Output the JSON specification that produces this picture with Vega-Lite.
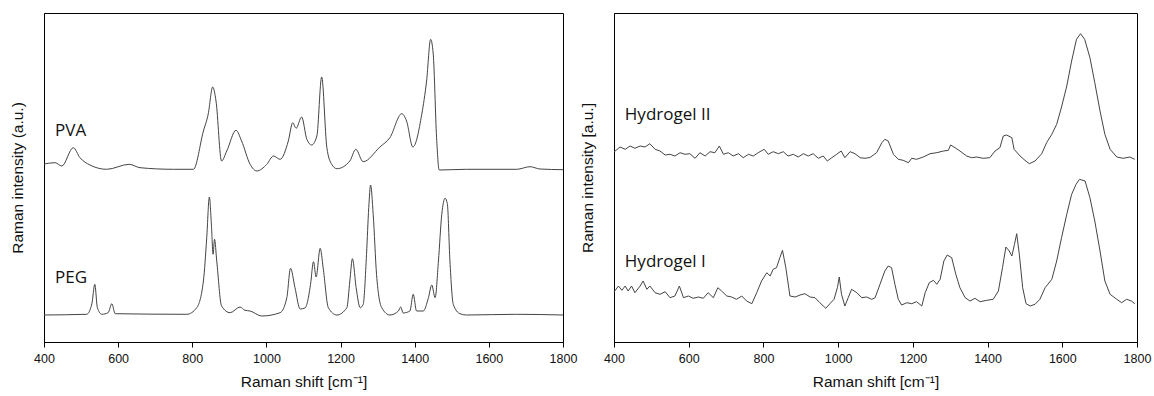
{
  "$schema": "https://vega.github.io/schema/vega-lite/v6.json",
  "background": "white",
  "padding": {"left": 9, "top": 12, "right": 15, "bottom": 5},
  "spacing": 1,
  "config": {
    "view": {"stroke": "#000", "strokeWidth": 1},
    "axis": {"domainColor": "#000", "tickColor": "#000", "labelFont": "Liberation Sans", "titleFont": "Liberation Sans", "labelFontSize": 12.5, "titleFontSize": 15.5, "labelColor": "#111", "titleColor": "#111", "titleFontWeight": "normal", "grid": false}
  },
  "datasets": {
    "left": [
      {"s":"PVA","x":400,"y":178},{"s":"PVA","x":430,"y":179.3},{"s":"PVA","x":448,"y":176},{"s":"PVA","x":479,"y":194.3},{"s":"PVA","x":497,"y":184.3},{"s":"PVA","x":524,"y":177},{"s":"PVA","x":569,"y":172.7},{"s":"PVA","x":630,"y":177.7},{"s":"PVA","x":659,"y":174.3},{"s":"PVA","x":749,"y":172.7},{"s":"PVA","x":803,"y":172.7},{"s":"PVA","x":830,"y":211},{"s":"PVA","x":843,"y":228},{"s":"PVA","x":855,"y":255},{"s":"PVA","x":864,"y":241},{"s":"PVA","x":879,"y":181},{"s":"PVA","x":893,"y":191},{"s":"PVA","x":918,"y":211.7},{"s":"PVA","x":933,"y":201},{"s":"PVA","x":956,"y":177.7},{"s":"PVA","x":974,"y":171},{"s":"PVA","x":1001,"y":177.7},{"s":"PVA","x":1019,"y":186},{"s":"PVA","x":1037,"y":182.7},{"s":"PVA","x":1059,"y":201},{"s":"PVA","x":1071,"y":219.3},{"s":"PVA","x":1080,"y":213.7},{"s":"PVA","x":1095,"y":225},{"s":"PVA","x":1109,"y":202.7},{"s":"PVA","x":1122,"y":197},{"s":"PVA","x":1136,"y":206},{"s":"PVA","x":1149,"y":265},{"s":"PVA","x":1163,"y":194.3},{"s":"PVA","x":1176,"y":177.7},{"s":"PVA","x":1190,"y":173.3},{"s":"PVA","x":1225,"y":181},{"s":"PVA","x":1241,"y":192.7},{"s":"PVA","x":1261,"y":180.3},{"s":"PVA","x":1306,"y":195},{"s":"PVA","x":1333,"y":204.3},{"s":"PVA","x":1365,"y":228.3},{"s":"PVA","x":1378,"y":221},{"s":"PVA","x":1395,"y":195},{"s":"PVA","x":1419,"y":227.7},{"s":"PVA","x":1432,"y":261},{"s":"PVA","x":1443,"y":302.7},{"s":"PVA","x":1450,"y":287.7},{"s":"PVA","x":1459,"y":204.3},{"s":"PVA","x":1466,"y":172},{"s":"PVA","x":1540,"y":172.7},{"s":"PVA","x":1675,"y":172.7},{"s":"PVA","x":1711,"y":175.3},{"s":"PVA","x":1738,"y":173},{"s":"PVA","x":1800,"y":172.3},
      {"s":"PEG","x":400,"y":27},{"s":"PEG","x":515,"y":27.7},{"s":"PEG","x":529,"y":38},{"s":"PEG","x":537,"y":57.7},{"s":"PEG","x":544,"y":34.3},{"s":"PEG","x":556,"y":27.7},{"s":"PEG","x":573,"y":29.3},{"s":"PEG","x":583,"y":38.3},{"s":"PEG","x":592,"y":28.3},{"s":"PEG","x":785,"y":27.7},{"s":"PEG","x":812,"y":34.3},{"s":"PEG","x":830,"y":61},{"s":"PEG","x":839,"y":104.3},{"s":"PEG","x":846,"y":145},{"s":"PEG","x":852,"y":114.3},{"s":"PEG","x":856,"y":87.7},{"s":"PEG","x":860,"y":102.7},{"s":"PEG","x":866,"y":81},{"s":"PEG","x":879,"y":36},{"s":"PEG","x":902,"y":29.3},{"s":"PEG","x":929,"y":35},{"s":"PEG","x":942,"y":31.7},{"s":"PEG","x":956,"y":31},{"s":"PEG","x":987,"y":26},{"s":"PEG","x":1037,"y":29.3},{"s":"PEG","x":1055,"y":44.3},{"s":"PEG","x":1065,"y":73.7},{"s":"PEG","x":1077,"y":54.3},{"s":"PEG","x":1091,"y":33},{"s":"PEG","x":1104,"y":34},{"s":"PEG","x":1109,"y":37.7},{"s":"PEG","x":1119,"y":57.7},{"s":"PEG","x":1127,"y":80.3},{"s":"PEG","x":1134,"y":65},{"s":"PEG","x":1145,"y":93.7},{"s":"PEG","x":1153,"y":74.3},{"s":"PEG","x":1167,"y":34.3},{"s":"PEG","x":1190,"y":27},{"s":"PEG","x":1217,"y":34.3},{"s":"PEG","x":1225,"y":61},{"s":"PEG","x":1232,"y":83.3},{"s":"PEG","x":1242,"y":54.3},{"s":"PEG","x":1253,"y":34.3},{"s":"PEG","x":1261,"y":37.7},{"s":"PEG","x":1270,"y":87.7},{"s":"PEG","x":1276,"y":134.3},{"s":"PEG","x":1281,"y":157},{"s":"PEG","x":1288,"y":127.7},{"s":"PEG","x":1297,"y":67.7},{"s":"PEG","x":1311,"y":34.3},{"s":"PEG","x":1333,"y":27},{"s":"PEG","x":1356,"y":31},{"s":"PEG","x":1362,"y":35},{"s":"PEG","x":1369,"y":29},{"s":"PEG","x":1387,"y":31},{"s":"PEG","x":1396,"y":47.7},{"s":"PEG","x":1405,"y":31},{"s":"PEG","x":1423,"y":31},{"s":"PEG","x":1437,"y":44.3},{"s":"PEG","x":1446,"y":57},{"s":"PEG","x":1455,"y":44.3},{"s":"PEG","x":1464,"y":81},{"s":"PEG","x":1473,"y":127.7},{"s":"PEG","x":1482,"y":143.7},{"s":"PEG","x":1488,"y":138.3},{"s":"PEG","x":1495,"y":81},{"s":"PEG","x":1504,"y":37.7},{"s":"PEG","x":1522,"y":28.3},{"s":"PEG","x":1540,"y":27},{"s":"PEG","x":1675,"y":27.7},{"s":"PEG","x":1800,"y":27}
    ],
    "right": [
      {"s":"II","x":400,"y":190},{"s":"II","x":416,"y":195},{"s":"II","x":430,"y":192.7},{"s":"II","x":443,"y":196},{"s":"II","x":456,"y":193.7},{"s":"II","x":470,"y":196},{"s":"II","x":483,"y":195},{"s":"II","x":496,"y":198.3},{"s":"II","x":510,"y":192.7},{"s":"II","x":523,"y":191},{"s":"II","x":537,"y":187},{"s":"II","x":550,"y":187.7},{"s":"II","x":563,"y":186},{"s":"II","x":577,"y":189.3},{"s":"II","x":590,"y":187.7},{"s":"II","x":603,"y":188.3},{"s":"II","x":617,"y":183.7},{"s":"II","x":630,"y":189.3},{"s":"II","x":644,"y":186},{"s":"II","x":657,"y":190.3},{"s":"II","x":670,"y":189.3},{"s":"II","x":682,"y":196},{"s":"II","x":693,"y":187.7},{"s":"II","x":706,"y":189.3},{"s":"II","x":719,"y":186},{"s":"II","x":733,"y":188.3},{"s":"II","x":746,"y":184.3},{"s":"II","x":760,"y":187.7},{"s":"II","x":773,"y":186},{"s":"II","x":786,"y":189.3},{"s":"II","x":802,"y":192.7},{"s":"II","x":813,"y":187.7},{"s":"II","x":826,"y":190.3},{"s":"II","x":840,"y":188.3},{"s":"II","x":853,"y":190.3},{"s":"II","x":866,"y":186},{"s":"II","x":880,"y":187.7},{"s":"II","x":893,"y":185},{"s":"II","x":907,"y":188.3},{"s":"II","x":920,"y":186},{"s":"II","x":933,"y":188.3},{"s":"II","x":947,"y":183.7},{"s":"II","x":960,"y":186},{"s":"II","x":971,"y":181},{"s":"II","x":983,"y":184.3},{"s":"II","x":996,"y":187.7},{"s":"II","x":1008,"y":191},{"s":"II","x":1018,"y":184.3},{"s":"II","x":1032,"y":190.3},{"s":"II","x":1045,"y":188.3},{"s":"II","x":1059,"y":184.3},{"s":"II","x":1072,"y":183.7},{"s":"II","x":1085,"y":184.5},{"s":"II","x":1103,"y":189.3},{"s":"II","x":1117,"y":199.3},{"s":"II","x":1125,"y":202.7},{"s":"II","x":1134,"y":201},{"s":"II","x":1148,"y":187.7},{"s":"II","x":1161,"y":182.7},{"s":"II","x":1174,"y":181.7},{"s":"II","x":1188,"y":179.3},{"s":"II","x":1197,"y":183.7},{"s":"II","x":1210,"y":182.7},{"s":"II","x":1228,"y":185},{"s":"II","x":1246,"y":188.3},{"s":"II","x":1264,"y":189.3},{"s":"II","x":1282,"y":191},{"s":"II","x":1295,"y":191.7},{"s":"II","x":1301,"y":197},{"s":"II","x":1313,"y":194.3},{"s":"II","x":1326,"y":191},{"s":"II","x":1344,"y":186},{"s":"II","x":1357,"y":184.3},{"s":"II","x":1371,"y":185},{"s":"II","x":1388,"y":183.7},{"s":"II","x":1406,"y":184.3},{"s":"II","x":1420,"y":191},{"s":"II","x":1433,"y":194.3},{"s":"II","x":1442,"y":206},{"s":"II","x":1451,"y":207},{"s":"II","x":1465,"y":204.3},{"s":"II","x":1471,"y":192.7},{"s":"II","x":1487,"y":186},{"s":"II","x":1500,"y":181.7},{"s":"II","x":1512,"y":178.3},{"s":"II","x":1527,"y":181},{"s":"II","x":1545,"y":188.3},{"s":"II","x":1558,"y":199.3},{"s":"II","x":1572,"y":207.7},{"s":"II","x":1585,"y":217.7},{"s":"II","x":1598,"y":235},{"s":"II","x":1612,"y":256},{"s":"II","x":1625,"y":281},{"s":"II","x":1638,"y":302.7},{"s":"II","x":1649,"y":308.3},{"s":"II","x":1660,"y":302.7},{"s":"II","x":1674,"y":284.3},{"s":"II","x":1687,"y":259.3},{"s":"II","x":1701,"y":231},{"s":"II","x":1714,"y":207.7},{"s":"II","x":1728,"y":192.7},{"s":"II","x":1746,"y":185},{"s":"II","x":1763,"y":183.7},{"s":"II","x":1781,"y":185},{"s":"II","x":1794,"y":182.7},
      {"s":"I","x":400,"y":50},{"s":"I","x":412,"y":56},{"s":"I","x":421,"y":51.7},{"s":"I","x":430,"y":56},{"s":"I","x":438,"y":51},{"s":"I","x":447,"y":56},{"s":"I","x":456,"y":49.3},{"s":"I","x":470,"y":56},{"s":"I","x":478,"y":61},{"s":"I","x":488,"y":52.7},{"s":"I","x":496,"y":56},{"s":"I","x":510,"y":49.3},{"s":"I","x":523,"y":47.7},{"s":"I","x":537,"y":50.3},{"s":"I","x":550,"y":44.3},{"s":"I","x":563,"y":46},{"s":"I","x":575,"y":56},{"s":"I","x":586,"y":44.3},{"s":"I","x":599,"y":46},{"s":"I","x":612,"y":43.7},{"s":"I","x":626,"y":45},{"s":"I","x":639,"y":43.7},{"s":"I","x":652,"y":49.3},{"s":"I","x":666,"y":44.3},{"s":"I","x":678,"y":54.3},{"s":"I","x":688,"y":51},{"s":"I","x":702,"y":46},{"s":"I","x":715,"y":45},{"s":"I","x":728,"y":42.7},{"s":"I","x":742,"y":46},{"s":"I","x":755,"y":41},{"s":"I","x":769,"y":38.3},{"s":"I","x":782,"y":49.3},{"s":"I","x":795,"y":61},{"s":"I","x":809,"y":69.3},{"s":"I","x":818,"y":66},{"s":"I","x":826,"y":72.7},{"s":"I","x":835,"y":74.3},{"s":"I","x":844,"y":84.3},{"s":"I","x":851,"y":91.7},{"s":"I","x":860,"y":74.3},{"s":"I","x":871,"y":46},{"s":"I","x":885,"y":45},{"s":"I","x":898,"y":47},{"s":"I","x":911,"y":48.3},{"s":"I","x":925,"y":45},{"s":"I","x":938,"y":44.3},{"s":"I","x":951,"y":39.3},{"s":"I","x":967,"y":33.7},{"s":"I","x":978,"y":38.3},{"s":"I","x":989,"y":42.7},{"s":"I","x":998,"y":54.3},{"s":"I","x":1003,"y":65},{"s":"I","x":1009,"y":47.7},{"s":"I","x":1018,"y":36},{"s":"I","x":1027,"y":44.3},{"s":"I","x":1036,"y":52.7},{"s":"I","x":1050,"y":49.3},{"s":"I","x":1063,"y":44.3},{"s":"I","x":1076,"y":45},{"s":"I","x":1090,"y":42.7},{"s":"I","x":1099,"y":44.3},{"s":"I","x":1112,"y":57.7},{"s":"I","x":1125,"y":71},{"s":"I","x":1134,"y":76},{"s":"I","x":1143,"y":74.3},{"s":"I","x":1152,"y":57.7},{"s":"I","x":1161,"y":42.7},{"s":"I","x":1170,"y":37},{"s":"I","x":1184,"y":39.3},{"s":"I","x":1197,"y":38.3},{"s":"I","x":1210,"y":40.3},{"s":"I","x":1224,"y":36},{"s":"I","x":1233,"y":49.3},{"s":"I","x":1244,"y":59.3},{"s":"I","x":1255,"y":61.7},{"s":"I","x":1264,"y":57.7},{"s":"I","x":1273,"y":62.7},{"s":"I","x":1283,"y":81},{"s":"I","x":1292,"y":87},{"s":"I","x":1304,"y":84.3},{"s":"I","x":1315,"y":67.7},{"s":"I","x":1326,"y":54.3},{"s":"I","x":1340,"y":44.3},{"s":"I","x":1353,"y":41},{"s":"I","x":1366,"y":43.7},{"s":"I","x":1380,"y":40.3},{"s":"I","x":1398,"y":41.7},{"s":"I","x":1415,"y":42.7},{"s":"I","x":1429,"y":51},{"s":"I","x":1440,"y":74.3},{"s":"I","x":1449,"y":95},{"s":"I","x":1458,"y":91},{"s":"I","x":1465,"y":86},{"s":"I","x":1472,"y":97.7},{"s":"I","x":1478,"y":108.3},{"s":"I","x":1485,"y":87.7},{"s":"I","x":1494,"y":54.3},{"s":"I","x":1503,"y":38.3},{"s":"I","x":1514,"y":36},{"s":"I","x":1527,"y":37.7},{"s":"I","x":1540,"y":42.7},{"s":"I","x":1554,"y":54.3},{"s":"I","x":1572,"y":62.7},{"s":"I","x":1585,"y":81},{"s":"I","x":1598,"y":104.3},{"s":"I","x":1612,"y":127.7},{"s":"I","x":1625,"y":147.7},{"s":"I","x":1637,"y":157.7},{"s":"I","x":1646,"y":162.7},{"s":"I","x":1661,"y":161},{"s":"I","x":1674,"y":144.3},{"s":"I","x":1687,"y":121},{"s":"I","x":1701,"y":91},{"s":"I","x":1714,"y":61},{"s":"I","x":1728,"y":47.7},{"s":"I","x":1746,"y":42.7},{"s":"I","x":1759,"y":39.3},{"s":"I","x":1772,"y":42.7},{"s":"I","x":1785,"y":41},{"s":"I","x":1794,"y":38.3}
    ],
    "leftLabels": [
      {"label": "PVA", "x": 430, "y": 206},
      {"label": "PEG", "x": 430, "y": 59}
    ],
    "rightLabels": [
      {"label": "Hydrogel II", "x": 429, "y": 222},
      {"label": "Hydrogel I", "x": 429, "y": 75}
    ]
  },
  "hconcat": [
    {
      "width": 519,
      "height": 329,
      "layer": [
        {
          "data": {"name": "left"},
          "mark": {"type": "line", "stroke": "#444", "strokeWidth": 1, "interpolate": "monotone"},
          "encoding": {
            "x": {"field": "x", "type": "quantitative", "scale": {"domain": [400, 1800], "nice": false, "zero": false},
                  "axis": {"title": "Raman shift [cm⁻¹]", "values": [400,500,600,700,800,900,1000,1100,1200,1300,1400,1500,1600,1700,1800], "format": "d", "labelExpr": "datum.value % 200 === 0 ? datum.label : ''", "tickSize": 5, "labelPadding": 5, "titlePadding": 10, "labelFlush": false, "labelOverlap": false}},
            "y": {"field": "y", "type": "quantitative", "scale": {"domain": [0, 329], "nice": false, "zero": false},
                  "axis": {"title": "Raman intensity (a.u.)", "labels": false, "ticks": false, "titlePadding": 19}},
            "detail": {"field": "s"}
          }
        },
        {
          "data": {"name": "leftLabels"},
          "mark": {"type": "text", "align": "left", "baseline": "alphabetic", "font": "Open Sans", "fontSize": 17, "color": "#111"},
          "encoding": {
            "x": {"field": "x", "type": "quantitative"},
            "y": {"field": "y", "type": "quantitative"},
            "text": {"field": "label"}
          }
        }
      ]
    },
    {
      "width": 523,
      "height": 329,
      "layer": [
        {
          "data": {"name": "right"},
          "mark": {"type": "line", "stroke": "#444", "strokeWidth": 1},
          "encoding": {
            "x": {"field": "x", "type": "quantitative", "scale": {"domain": [400, 1800], "nice": false, "zero": false},
                  "axis": {"title": "Raman shift [cm⁻¹]", "values": [400,500,600,700,800,900,1000,1100,1200,1300,1400,1500,1600,1700,1800], "format": "d", "labelExpr": "datum.value % 200 === 0 ? datum.label : ''", "tickSize": 5, "labelPadding": 5, "titlePadding": 10, "labelFlush": false, "labelOverlap": false}},
            "y": {"field": "y", "type": "quantitative", "scale": {"domain": [0, 329], "nice": false, "zero": false},
                  "axis": {"title": "Raman intensity [a.u.]", "labels": false, "ticks": false, "titlePadding": 19}},
            "detail": {"field": "s"}
          }
        },
        {
          "data": {"name": "rightLabels"},
          "mark": {"type": "text", "align": "left", "baseline": "alphabetic", "font": "Open Sans", "fontSize": 17, "color": "#111"},
          "encoding": {
            "x": {"field": "x", "type": "quantitative"},
            "y": {"field": "y", "type": "quantitative"},
            "text": {"field": "label"}
          }
        }
      ]
    }
  ]
}
